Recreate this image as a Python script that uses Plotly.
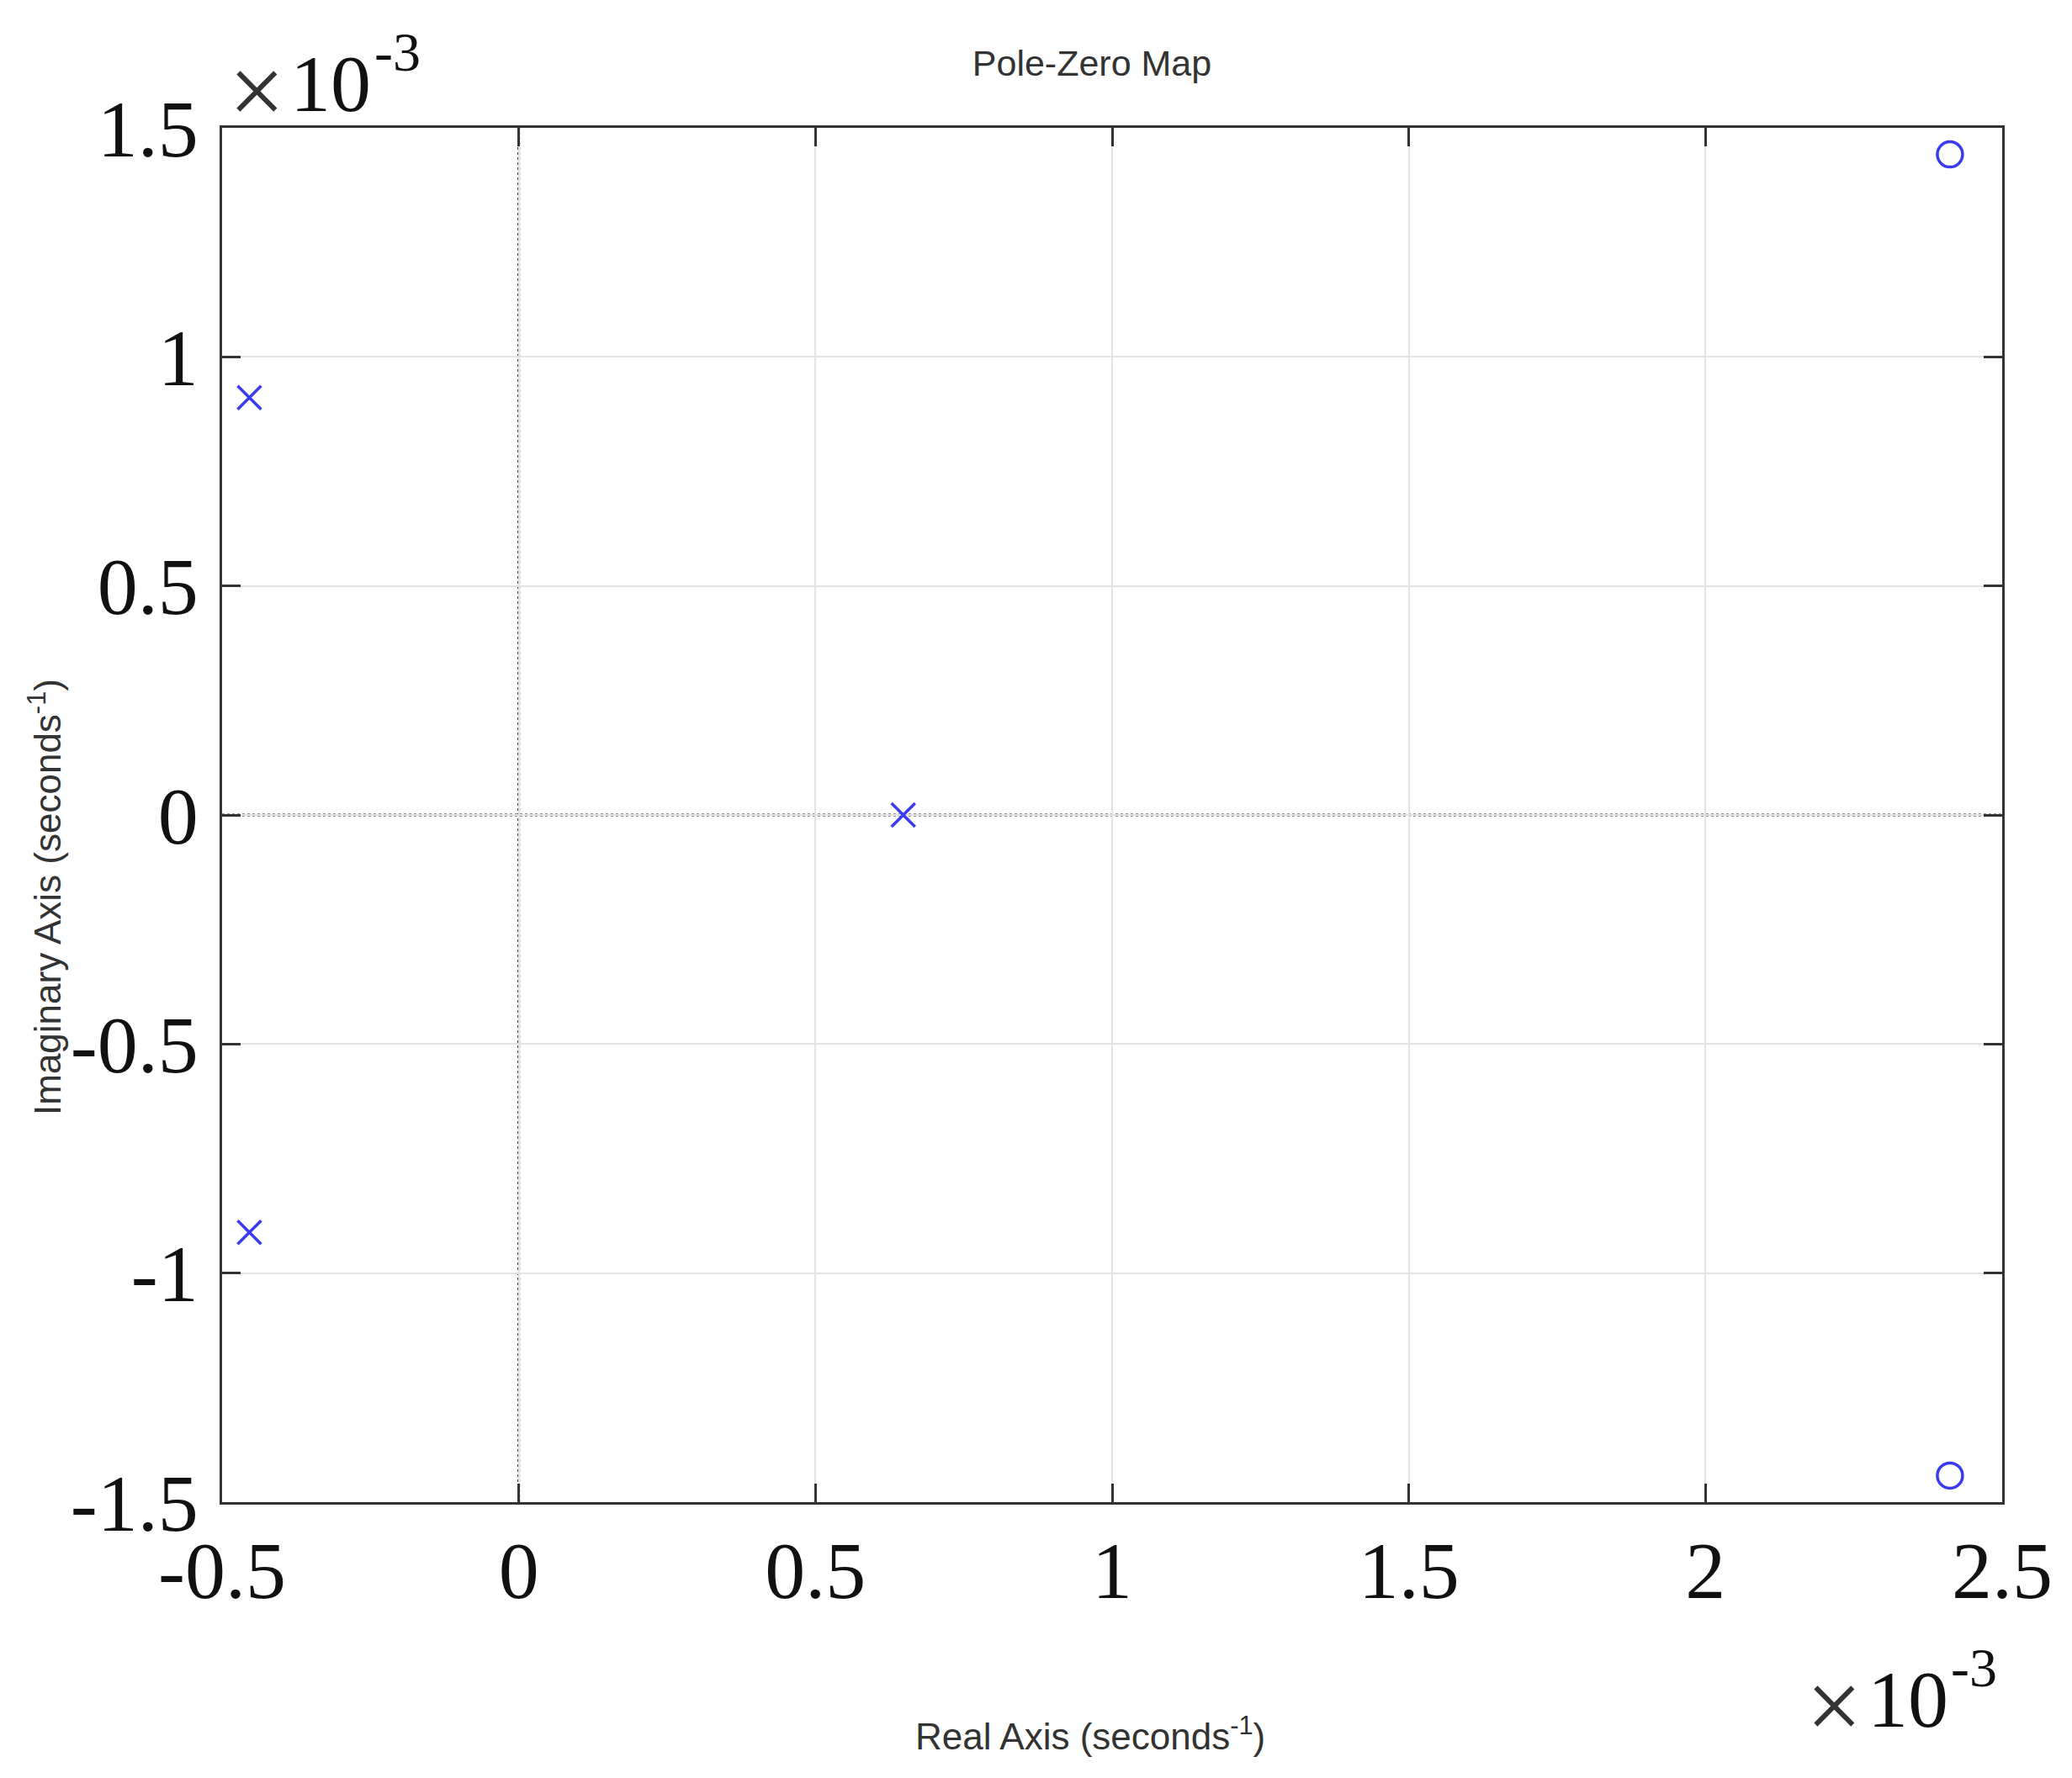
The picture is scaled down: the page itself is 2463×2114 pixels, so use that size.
import plotly.graph_objects as go

# ---- data (seconds^-1) ----
pole_real = [-0.454e-3, -0.454e-3, 0.648e-3]
pole_imag = [0.911e-3, -0.911e-3, 0.0]
zero_real = [2.412e-3, 2.412e-3]
zero_imag = [1.442e-3, -1.442e-3]

scale = 1e-3
x_ticks = [-0.5, 0, 0.5, 1, 1.5, 2, 2.5]
y_ticks = [-1.5, -1, -0.5, 0, 0.5, 1, 1.5]
x_ticktext = ["-0.5", "0", "0.5", "1", "1.5", "2", "2.5"]
y_ticktext = ["-1.5", "-1", "-0.5", "0", "0.5", "1", "1.5"]

# page has an 8px body margin
OFF = 8
W, H = 2447, 2098
PL, PR, PT, PB = 264, 2380, 152, 1786          # plot area in page pixels
ML, MT = PL - OFF, PT - OFF
MR, MB = W - (PR - OFF), H - (PB - OFF)


def px(xp):
    return (xp - PL) / (PR - PL)


def py(yp):
    return (PB - yp) / (PB - PT)


blue = "#3a3af0"
frame = "#333333"
serif = "Liberation Serif, Times New Roman, serif"
sans = "Liberation Sans, Arial, sans-serif"
txt = "#111111"

fig = go.Figure()
fig.add_trace(go.Scatter(
    x=pole_real, y=pole_imag, mode="markers", name="Poles",
    marker=dict(symbol="x-thin-open", size=28, color=blue,
                line=dict(color=blue, width=3.5)),
))
fig.add_trace(go.Scatter(
    x=zero_real, y=zero_imag, mode="markers", name="Zeros",
    marker=dict(symbol="circle-open", size=30, color=blue,
                line=dict(color=blue, width=3.5)),
))

# dotted reference lines through the origin
fig.add_vline(x=0, line=dict(color="#222222", width=3, dash="dot"), layer="below")
fig.add_hline(y=0, line=dict(color="#222222", width=3, dash="dot"), layer="below")

axis_common = dict(
    showline=True, mirror="ticks", linecolor=frame, linewidth=3,
    ticks="inside", ticklen=22, tickwidth=2.5, tickcolor=frame,
    showgrid=True, gridcolor="#e3e3e3", gridwidth=2,
    zeroline=False,
    tickfont=dict(family=serif, size=96, color=txt),
)

fig.update_xaxes(
    range=[x_ticks[0] * scale, x_ticks[-1] * scale],
    tickvals=[t * scale for t in x_ticks], ticktext=x_ticktext,
    ticklabelstandoff=-4,
    **axis_common,
)
fig.update_yaxes(
    range=[y_ticks[0] * scale, y_ticks[-1] * scale],
    tickvals=[t * scale for t in y_ticks], ticktext=y_ticktext,
    ticklabelstandoff=6,
    **axis_common,
)

# axis titles
fig.add_annotation(
    text="Real Axis (seconds<sup>-1</sup>)", xref="paper", yref="paper",
    x=px(1296), y=py(2061), xanchor="center", yanchor="middle", showarrow=False,
    font=dict(family=sans, size=44, color="#333333"),
)
fig.add_annotation(
    text="Imaginary Axis (seconds<sup>-1</sup>)", xref="paper", yref="paper",
    x=px(53), y=py(1067), xanchor="center", yanchor="middle", showarrow=False,
    textangle=-90,
    font=dict(family=sans, size=44, color="#333333"),
)


# exponent labels (×10^-3), built from three pieces
def exponent(xc_times, xc_ten, xc_exp, yc_times, yc_ten, yc_exp):
    fig.add_annotation(text="×", xref="paper", yref="paper",
                       x=px(xc_times), y=py(yc_times), xanchor="center",
                       yanchor="middle", showarrow=False,
                       font=dict(family=serif, size=118, color="#333333"))
    fig.add_annotation(text="10", xref="paper", yref="paper",
                       x=px(xc_ten), y=py(yc_ten), xanchor="center",
                       yanchor="middle", showarrow=False,
                       font=dict(family=serif, size=96, color=txt))
    fig.add_annotation(text="-3", xref="paper", yref="paper",
                       x=px(xc_exp), y=py(yc_exp), xanchor="center",
                       yanchor="middle", showarrow=False,
                       font=dict(family=serif, size=66, color=txt))


exponent(305, 393, 472, 108, 100, 62)
exponent(2180, 2268, 2346, 2028, 2021, 1982)

fig.update_layout(
    width=W, height=H,
    margin=dict(l=ML, r=MR, t=MT, b=MB),
    paper_bgcolor="white", plot_bgcolor="white",
    showlegend=False,
    title=dict(text="Pole-Zero Map", x=(1298 - OFF) / W, xanchor="center",
               y=1 - (75 - OFF) / H, yanchor="middle",
               font=dict(family=sans, size=43, color="#333333")),
)

fig.write_html("out.html")
